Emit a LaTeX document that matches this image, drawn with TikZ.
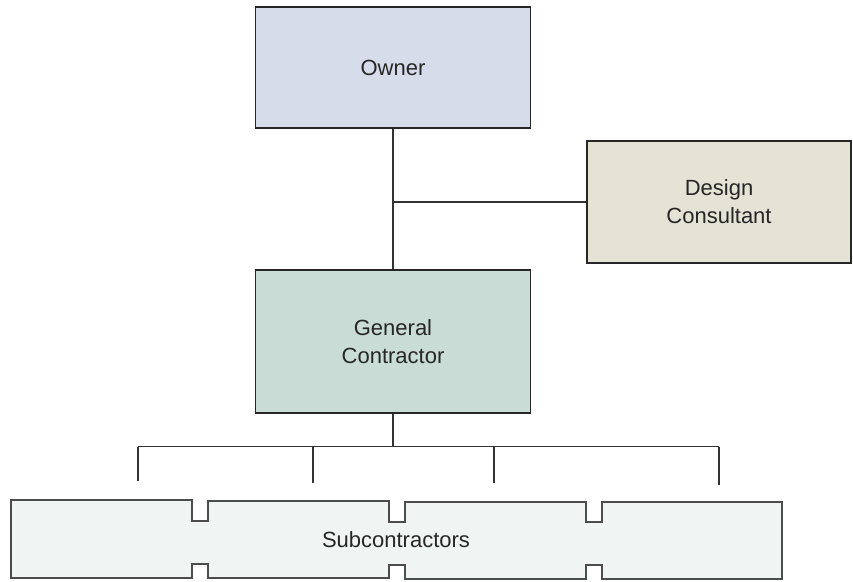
\documentclass[tikz,border=0pt]{standalone}
\usepackage{fontspec}
\setmainfont{Liberation Sans}
\usetikzlibrary{calc}
\definecolor{ownerblue}{RGB}{215,220,235}
\definecolor{designbeige}{RGB}{229,226,214}
\definecolor{gcgreen}{RGB}{202,220,214}
\definecolor{subgray}{RGB}{240,244,243}

\begin{document}
\begin{tikzpicture}[x=1pt, y=-1pt,
	orgbox/.style={draw=black!85, line width=1.3pt, align=center,
		font=\fontsize{22}{28}\selectfont, text=black!85},
	link/.style={draw=black!80, line width=1.1pt}]
	\useasboundingbox (0,0) rectangle (853,581);
	% boxes, in pixel units of the sheet
	\node[orgbox, fill=ownerblue, minimum width=275pt, minimum height=121pt] (owner) at (393,67.5) {Owner};
	\node[orgbox, fill=designbeige, minimum width=264pt, minimum height=122pt] (design) at (719,202) {Design\\Consultant};
	\node[orgbox, fill=gcgreen, minimum width=275pt, minimum height=143pt] (gc) at (393,341.5) {General\\Contractor};
	
	% subcontractors band with notches top and bottom
	\draw[draw=black!70, line width=1.2pt, fill=subgray]
		(11,500) -- (192,500) -- (192,521) -- (208,521) -- (208,501)
		-- (389,501) -- (389,522) -- (405,522) -- (405,502)
		-- (586,502) -- (586,522) -- (602,522) -- (602,502) -- (782,502)
		-- (782,579) -- (602,579) -- (602,565) -- (586,565) -- (586,579)
		-- (405,579) -- (405,565) -- (389,565) -- (389,578)
		-- (208,578) -- (208,564) -- (192,564) -- (192,578) -- (11,578) -- cycle;
	\node[font=\fontsize{22}{28}\selectfont, text=black!85] (sub) at (396,540) {Subcontractors};
	
	% owner - contractor - consultant
	\draw[link] (owner.south) -- (gc.north);
	\draw[link] (owner.south |- design.west) -- (design.west);
	
	% bus down to the subcontractors
	\coordinate (bus) at ($(gc.south)+(0,33)$);
	\coordinate (d1) at (138,481);
	\coordinate (d2) at (313,483);
	\coordinate (d3) at (494,483);
	\coordinate (d4) at (719,485);
	\draw[link] (gc.south) -- (bus);
	\draw[link] (d1 |- bus) -- (d4 |- bus);
	\draw[link] (d1 |- bus) -- (d1);
	\draw[link] (d2 |- bus) -- (d2);
	\draw[link] (d3 |- bus) -- (d3);
	\draw[link] (d4 |- bus) -- (d4);
\end{tikzpicture}
\end{document}
